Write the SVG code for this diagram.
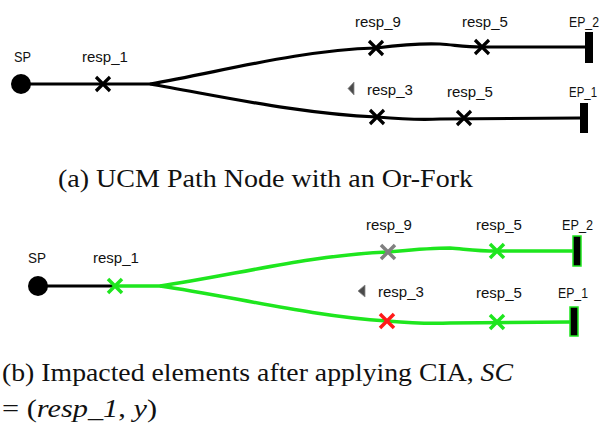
<svg xmlns="http://www.w3.org/2000/svg" width="604" height="433" viewBox="0 0 604 433">
  <style>
    .lbl { font-family: "Liberation Sans", Arial, sans-serif; font-size: 15px; fill: #111; }
    .eplbl { font-size: 14px; }
    .cap { font-family: "Liberation Serif", "Times New Roman", serif; font-size: 25px; fill: #111; }
    .path { fill: none; stroke: #000; stroke-width: 3.2; }
    .hit { fill: none; stroke: #1ee61e; stroke-width: 3.5; }
    .xk { stroke: #000; stroke-width: 3.2; }
    .xg { stroke: #1ee61e; stroke-width: 3.5; }
    .xgr { stroke: #808080; stroke-width: 3.5; }
    .xr { stroke: #ff1a1a; stroke-width: 3.5; }
    .ep { fill: #000; }
    .epg { fill: #000; stroke: #1ee61e; stroke-width: 1.5; }
    .tri { fill: #4a4a4a; stroke: #888; stroke-width: 0.8; }
  </style>
  <defs>
    <path id="cross" d="M-7,-7 L7,7 M-7,7 L7,-7"/>
  </defs>

  <rect width="604" height="433" fill="#fff"/>

  <!-- (a) plain path with an or-fork -->
  <g id="connectors-a">
    <path class="path" d="M21,84 L150,84"/>
    <path class="path" d="M150,84 C220,72 300,50 376,48 C400,45 420,43 440,44 C455,45 465,47 482,47 L585,47"/>
    <path class="path" d="M150,84 C220,96 300,114 377,117 C400,119 420,120 440,119 L580,118"/>
  </g>
  <g id="a-sp">
    <circle cx="21" cy="84" r="10" fill="#000"/>
    <text class="lbl" x="14" y="62" textLength="17" lengthAdjust="spacingAndGlyphs">SP</text>
  </g>
  <g id="a-resp1">
    <use href="#cross" class="xk" x="103" y="84"/>
    <text class="lbl" x="82" y="62">resp_1</text>
  </g>
  <g id="a-resp9">
    <use href="#cross" class="xk" x="376" y="48"/>
    <text class="lbl" x="355" y="27">resp_9</text>
  </g>
  <g id="a-resp5-top">
    <use href="#cross" class="xk" x="482" y="47"/>
    <text class="lbl" x="462" y="27">resp_5</text>
  </g>
  <g id="a-ep2">
    <rect class="ep" x="585" y="32" width="8" height="31"/>
    <text class="lbl eplbl" x="569" y="27" textLength="30" lengthAdjust="spacingAndGlyphs">EP_2</text>
  </g>
  <g id="a-resp3">
    <polygon class="tri" points="348,88.5 354,82 354,95"/>
    <use href="#cross" class="xk" x="377" y="117"/>
    <text class="lbl" x="367" y="95">resp_3</text>
  </g>
  <g id="a-resp5-bottom">
    <use href="#cross" class="xk" x="464" y="118"/>
    <text class="lbl" x="447" y="97">resp_5</text>
  </g>
  <g id="a-ep1">
    <rect class="ep" x="580" y="103" width="8" height="30"/>
    <text class="lbl eplbl" x="569" y="97" textLength="28" lengthAdjust="spacingAndGlyphs">EP_1</text>
  </g>

  <text id="caption-a" class="cap" x="58" y="187" textLength="415" lengthAdjust="spacingAndGlyphs">(a) UCM Path Node with an Or-Fork</text>

  <!-- (b) same path with impacted elements highlighted -->
  <g id="connectors-b">
    <path class="path" d="M38,286 L115,286"/>
    <path class="hit" d="M115,286 L160,286"/>
    <path class="hit" d="M160,286 C230,276 310,255 388,252 C410,250 430,248 450,248 C465,249 475,251 497,251 L573,251"/>
    <path class="hit" d="M160,286 C230,296 310,316 387,321 C410,323 430,324 450,323 L570,322"/>
  </g>
  <g id="b-sp">
    <circle cx="38" cy="286" r="10" fill="#000"/>
    <text class="lbl" x="28" y="263" textLength="18" lengthAdjust="spacingAndGlyphs">SP</text>
  </g>
  <g id="b-resp1">
    <use href="#cross" class="xg" x="115" y="286"/>
    <text class="lbl" x="93" y="263">resp_1</text>
  </g>
  <g id="b-resp9">
    <use href="#cross" class="xgr" x="388" y="252"/>
    <text class="lbl" x="366" y="230">resp_9</text>
  </g>
  <g id="b-resp5-top">
    <use href="#cross" class="xg" x="497" y="251"/>
    <text class="lbl" x="476" y="230">resp_5</text>
  </g>
  <g id="b-ep2">
    <rect class="epg" x="573" y="236" width="8" height="30"/>
    <text class="lbl" x="562" y="230" textLength="31" lengthAdjust="spacingAndGlyphs">EP_2</text>
  </g>
  <g id="b-resp3">
    <polygon class="tri" points="358,291 365,285 365,297"/>
    <use href="#cross" class="xr" x="387" y="321"/>
    <text class="lbl" x="378" y="297">resp_3</text>
  </g>
  <g id="b-resp5-bottom">
    <use href="#cross" class="xg" x="497" y="322"/>
    <text class="lbl" x="476" y="298">resp_5</text>
  </g>
  <g id="b-ep1">
    <rect class="epg" x="570" y="307" width="8" height="29"/>
    <text class="lbl" x="558" y="298" textLength="30" lengthAdjust="spacingAndGlyphs">EP_1</text>
  </g>

  <text id="caption-b1" class="cap" x="2" y="381" textLength="511" lengthAdjust="spacingAndGlyphs">(b) Impacted elements after applying CIA, <tspan font-style="italic">SC</tspan></text>
  <text id="caption-b2" class="cap" x="2" y="417" textLength="155" lengthAdjust="spacingAndGlyphs">= (<tspan font-style="italic">resp_1</tspan>, <tspan font-style="italic">y</tspan>)</text>
</svg>
